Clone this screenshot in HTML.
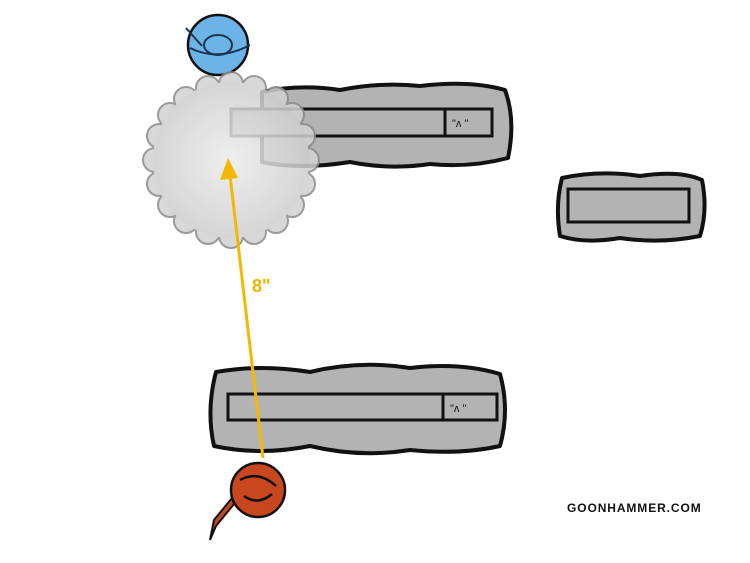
<!DOCTYPE html>
<html><head><meta charset="utf-8"><style>html,body{margin:0;padding:0;background:#fff}svg{display:block}</style></head><body>
<svg width="750" height="563" viewBox="0 0 750 563" xmlns="http://www.w3.org/2000/svg">
<!-- top ruin -->
<path d="M262,92 Q300,84 340,90 Q380,82 420,86 Q470,80 505,90 Q516,120 508,158 Q470,168 430,164 Q390,170 350,162 Q300,170 262,162 Z" fill="#b3b3b3" stroke="#111" stroke-width="4" stroke-linejoin="round"/>
<rect x="231" y="109" width="214" height="27" fill="#b3b3b3" stroke="#111" stroke-width="3"/>
<rect x="445" y="109" width="47" height="27" fill="#b3b3b3" stroke="#111" stroke-width="3"/>
<text x="452" y="127" font-family="Liberation Sans,sans-serif" font-size="11" fill="#111">"ʌ ''</text>
<!-- right ruin -->
<path d="M562,178 Q600,170 640,176 Q680,170 702,180 Q708,210 700,236 Q660,244 620,238 Q585,244 560,236 Q555,205 562,178 Z" fill="#b3b3b3" stroke="#111" stroke-width="4" stroke-linejoin="round"/>
<rect x="568" y="189" width="121" height="33" fill="#b3b3b3" stroke="#111" stroke-width="3"/>
<!-- bottom ruin -->
<path d="M216,372 Q260,364 310,372 Q360,360 410,368 Q460,362 500,374 Q510,410 500,446 Q460,455 410,450 Q360,458 310,446 Q260,456 214,446 Q206,410 216,372 Z" fill="#b3b3b3" stroke="#111" stroke-width="4" stroke-linejoin="round"/>
<rect x="228" y="394" width="215" height="26" fill="#b3b3b3" stroke="#111" stroke-width="3"/>
<rect x="443" y="394" width="54" height="26" fill="#b3b3b3" stroke="#111" stroke-width="3"/>
<text x="450" y="412" font-family="Liberation Sans,sans-serif" font-size="11" fill="#111">"ʌ ''</text>
<!-- blue model -->
<circle cx="218" cy="45" r="30" fill="#6cb4e8" stroke="#111" stroke-width="2.5"/>
<ellipse cx="218" cy="45" rx="14" ry="10" fill="none" stroke="#1a3550" stroke-width="2"/>
<path d="M186,28 L202,46 M190,48 Q218,62 250,45" fill="none" stroke="#1a3550" stroke-width="2"/>
<!-- cloud -->
<defs><radialGradient id="g" cx="0.5" cy="0.5" r="0.5"><stop offset="0" stop-color="#ececec"/><stop offset="1" stop-color="#cfcfcf"/></radialGradient></defs>
<g opacity="0.85">
<g fill="#d2d2d2" stroke="#8a8a8a" stroke-width="2">
<circle cx="307" cy="160" r="12"/><circle cx="303" cy="184" r="12"/><circle cx="292" cy="205" r="12"/><circle cx="276" cy="221" r="12"/><circle cx="254" cy="232" r="12"/><circle cx="231" cy="236" r="12"/><circle cx="208" cy="232" r="12"/><circle cx="186" cy="221" r="12"/><circle cx="170" cy="205" r="12"/><circle cx="159" cy="184" r="12"/><circle cx="155" cy="160" r="12"/><circle cx="159" cy="136" r="12"/><circle cx="170" cy="115" r="12"/><circle cx="186" cy="99" r="12"/><circle cx="208" cy="88" r="12"/><circle cx="231" cy="84" r="12"/><circle cx="254" cy="88" r="12"/><circle cx="276" cy="99" r="12"/><circle cx="292" cy="115" r="12"/><circle cx="303" cy="136" r="12"/>
</g>
<circle cx="231" cy="160" r="78" fill="url(#g)"/>
</g>
<!-- red model -->
<circle cx="258" cy="490" r="27" fill="#c8471f" stroke="#111" stroke-width="2.5"/>
<path d="M240,480 Q258,470 276,486 M244,496 Q258,506 272,494" fill="none" stroke="#111" stroke-width="2.5"/>
<path d="M232,498 L214,520 L210,540 L216,526 L234,504 Z" fill="#c8471f" stroke="#111" stroke-width="2"/>
<!-- arrow -->
<line x1="263" y1="458" x2="230" y2="175" stroke="#f5b800" stroke-width="3"/>
<polygon points="228,158 220,180 238,178" fill="#f5b800"/>
<text x="252" y="292" font-family="Liberation Sans,sans-serif" font-size="18" font-weight="bold" fill="#f0b400">8"</text>
<text x="567" y="512" font-family="Liberation Sans,sans-serif" font-size="12" font-weight="bold" letter-spacing="0.9" fill="#111">GOONHAMMER.COM</text>
</svg>
</body></html>
